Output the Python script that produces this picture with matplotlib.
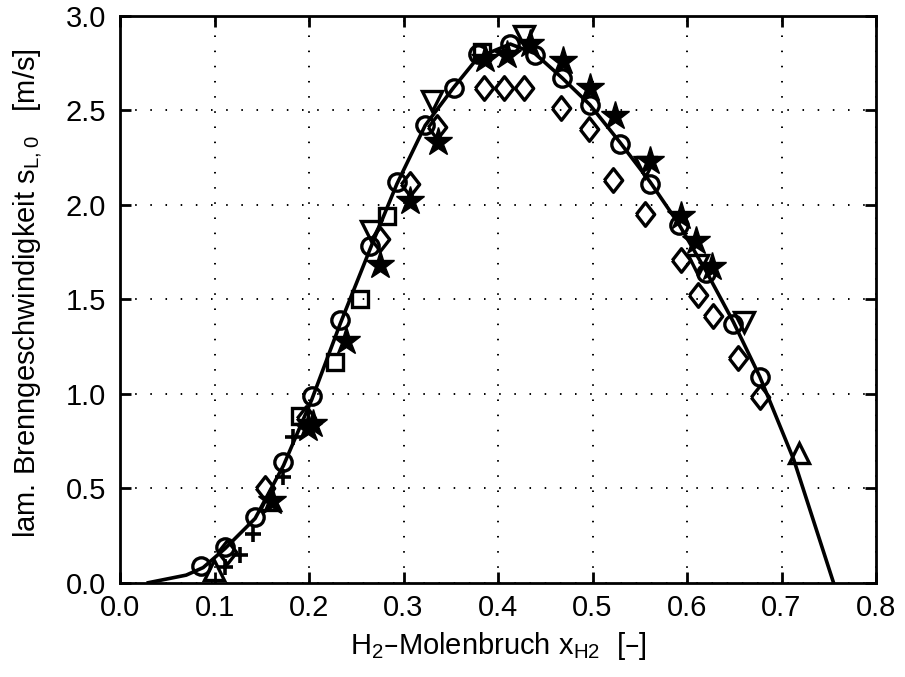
import matplotlib
matplotlib.use("Agg")
import matplotlib.pyplot as plt

plt.rcParams["font.family"] = ["Liberation Sans", "DejaVu Sans"]
plt.rcParams["mathtext.default"] = "regular"

# model curve (solid line)
line_x = [0.030, 0.050, 0.070, 0.088, 0.111, 0.143, 0.173, 0.203, 0.233, 0.265,
          0.293, 0.323, 0.353, 0.379, 0.413, 0.439, 0.468, 0.497, 0.529, 0.561,
          0.591, 0.620, 0.649, 0.677, 0.713, 0.755]
line_y = [0.00, 0.02, 0.04, 0.08, 0.18, 0.34, 0.62, 0.97, 1.37, 1.77,
          2.11, 2.42, 2.62, 2.78, 2.85, 2.80, 2.67, 2.53, 2.33, 2.12,
          1.90, 1.65, 1.38, 1.09, 0.65, 0.00]

# measurement series
circ_x = [0.086, 0.111, 0.143, 0.173, 0.203, 0.233, 0.265, 0.293, 0.323, 0.353,
          0.379, 0.413, 0.439, 0.468, 0.497, 0.529, 0.561, 0.591, 0.620, 0.649, 0.677]
circ_y = [0.09, 0.19, 0.35, 0.64, 0.99, 1.39, 1.78, 2.12, 2.42, 2.62,
          2.80, 2.85, 2.79, 2.67, 2.53, 2.32, 2.11, 1.89, 1.64, 1.37, 1.09]

sq_x = [0.190, 0.228, 0.254, 0.282, 0.383]
sq_y = [0.88, 1.17, 1.50, 1.94, 2.81]

dia_x = [0.113, 0.153, 0.197, 0.275, 0.307, 0.335, 0.385, 0.406, 0.428, 0.467,
         0.496, 0.522, 0.555, 0.594, 0.612, 0.627, 0.654, 0.677]
dia_y = [0.16, 0.50, 0.87, 1.82, 2.11, 2.41, 2.62, 2.62, 2.62, 2.51,
         2.40, 2.13, 1.95, 1.71, 1.52, 1.41, 1.19, 0.98]

star_x = [0.161, 0.199, 0.204, 0.239, 0.275, 0.307, 0.337, 0.386, 0.409, 0.434,
          0.469, 0.497, 0.524, 0.561, 0.594, 0.610, 0.626]
star_y = [0.43, 0.82, 0.84, 1.28, 1.68, 2.02, 2.33, 2.77, 2.79, 2.85,
          2.76, 2.62, 2.47, 2.23, 1.94, 1.81, 1.67]

tup_x = [0.099, 0.159, 0.718]
tup_y = [0.065, 0.44, 0.685]

tdn_x = [0.266, 0.330, 0.428, 0.556, 0.612, 0.660]
tdn_y = [1.86, 2.55, 2.89, 2.20, 1.68, 1.38]

plus_x = [0.111, 0.127, 0.141, 0.173, 0.183]
plus_y = [0.085, 0.147, 0.26, 0.56, 0.77]

xticks = [0.0, 0.1, 0.2, 0.3, 0.4, 0.5, 0.6, 0.7, 0.8]
yticks = [0.0, 0.5, 1.0, 1.5, 2.0, 2.5, 3.0]

# tall matlab-like diamond
DIAMOND = [(-0.78, 0.0), (0.0, 1.0), (0.78, 0.0), (0.0, -1.0), (-0.78, 0.0)]

fig = plt.figure(figsize=(9.05, 6.77), dpi=100)
ax = fig.add_axes([0.1326, 0.1393, 0.8354, 0.8375])

ax.plot(line_x, line_y, "-", color="black", lw=2.6, zorder=2)

open_kw = dict(ls="none", mfc="none", mec="black", mew=2.4, zorder=3)
ax.plot(circ_x, circ_y, "o", ms=12.5, **open_kw)
ax.plot(sq_x, sq_y, "s", ms=12, **open_kw)
ax.plot(dia_x, dia_y, marker=DIAMOND, ms=17, **open_kw)
ax.plot(tup_x, tup_y, "^", ms=15, **open_kw)
ax.plot(tdn_x, tdn_y, "v", ms=15, **open_kw)
ax.plot(plus_x, plus_y, "+", ms=12, ls="none", mec="black", mew=2.6, zorder=3)
ax.plot(star_x, star_y, "*", ms=21, ls="none", color="black", mec="black", zorder=4)

ax.set_xlim(0.0, 0.8)
ax.set_ylim(0.0, 3.0)
ax.set_xticks(xticks)
ax.set_yticks(yticks)
ax.set_xticklabels([f"{v:.1f}" for v in xticks])
ax.set_yticklabels([f"{v:.1f}" for v in yticks])
ax.tick_params(direction="in", length=8, width=2.0, labelsize=21,
               top=True, right=True, colors="black")
ax.tick_params(axis="x", pad=8)
ax.tick_params(axis="y", pad=10)
for sp in ax.spines.values():
    sp.set_linewidth(2.0)

ax.grid(True, color="black", ls=(0, (0.8, 7.0)), lw=1.4)
ax.set_axisbelow(True)

ax.set_xlabel(r"H$_2$–Molenbruch x$_{H2}$  [–]", fontsize=21, labelpad=6)
ax.set_ylabel(r"lam. Brenngeschwindigkeit s$_{L,0}$   [m/s]", fontsize=21)
ax.yaxis.set_label_coords(-0.1, 0.51)

fig.savefig("out.png", dpi=100)
